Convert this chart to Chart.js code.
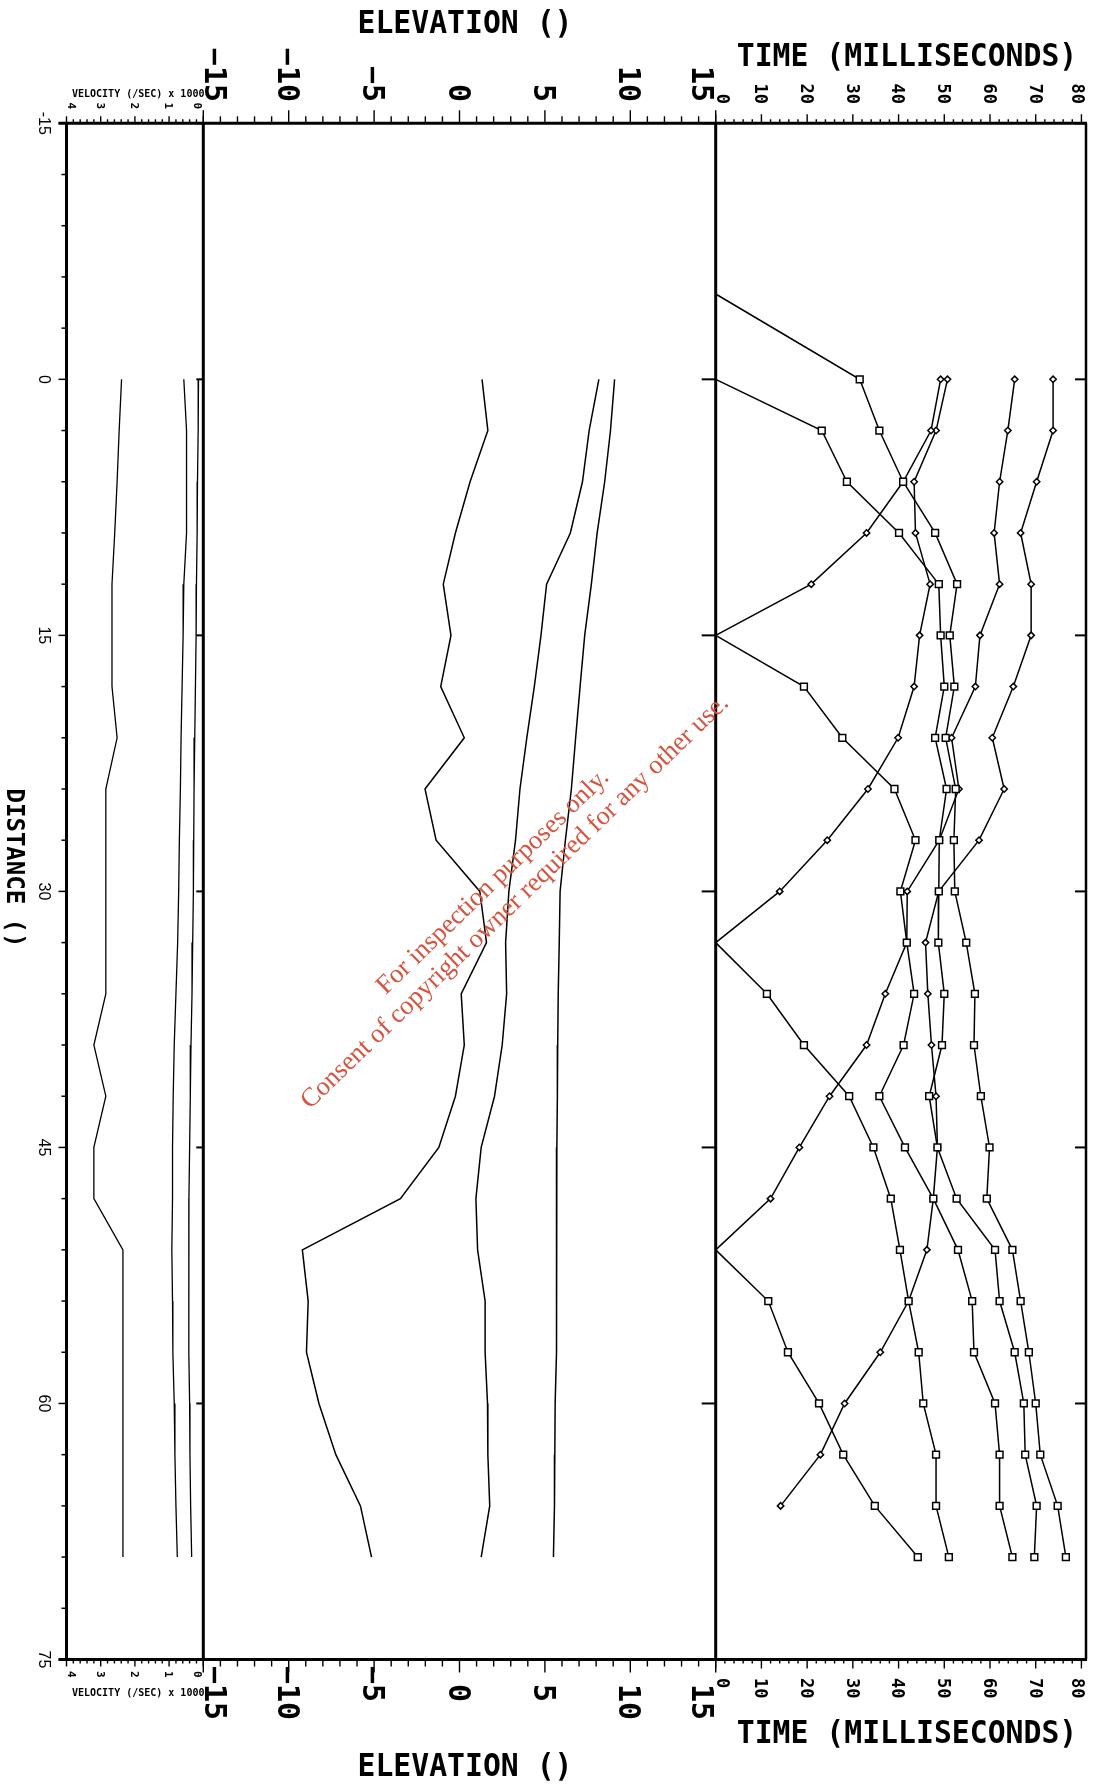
<!DOCTYPE html>
<html>
<head>
<meta charset="utf-8">
<script src="https://cdn.jsdelivr.net/npm/chart.js@4.4.1/dist/chart.umd.min.js"></script>
<style>
  html, body { margin: 0; padding: 0; background: #fff; }
  #wrap { position: relative; width: 1102px; height: 1787px; }
</style>
</head>
<body>
<div id="wrap"><canvas id="refraction" width="1102" height="1787"></canvas></div>
<script>
// geophone stations along the line
const stations = [0, 3, 6, 9, 12, 15, 18, 21, 24, 27, 30, 33, 36, 39, 42, 45, 48, 51, 54, 57, 60, 63, 66, 69];

// forward shots (square markers): times at the stations past the shot
const fwdShots = [-5, 0, 15, 33, 51];
const fwdTimes1 = [31.5, 35.8, 41.0, 48.0, 52.8, 51.2, 52.2, 50.3, 52.5, 52.1, 52.3, 54.8, 56.7, 56.5, 58.0, 59.9, 59.3, 64.9, 66.7, 68.5, 70.0, 71.0, 74.8, 76.6];
const fwdTimes2 = [23.2, 28.7, 40.1, 48.8, 49.2, 50.0, 48.0, 50.5, 48.9, 48.8, 48.7, 50.0, 49.5, 46.7, 48.5, 52.7, 61.1, 62.1, 65.4, 67.4, 67.7, 70.2, 69.7];
const fwdTimes3 = [19.3, 27.7, 39.1, 43.7, 40.4, 41.8, 43.4, 41.1, 35.8, 41.4, 47.6, 53.0, 56.1, 56.5, 61.1, 62.1, 62.1, 64.9];
const fwdTimes4 = [11.2, 19.3, 29.2, 34.5, 38.3, 40.3, 42.2, 44.4, 45.4, 48.2, 48.2, 51.0];
const fwdTimes5 = [11.5, 15.8, 22.6, 27.9, 34.8, 44.2];

// reverse shots (diamond markers): times going back toward station 0
const revShots = [15, 33, 51, null];
const revTimes1 = [20.9, 33.0, 41.0, 47.1, 49.2];
const revTimes2 = [14.0, 24.4, 33.3, 39.9, 43.4, 44.6, 46.9, 43.7, 43.4, 48.2, 50.7];
const revTimes3 = [12.0, 18.3, 24.9, 33.0, 37.1, 41.8, 41.9, 48.9, 53.2, 51.6, 56.8, 57.8, 62.1, 60.9, 62.1, 63.9, 65.4];
const revTimes4 = [14.2, 22.9, 28.2, 36.0, 42.2, 46.2, 47.6, 48.5, 48.2, 47.2, 46.4, 45.9, 48.8, 57.6, 63.1, 60.5, 65.1, 69.0, 69.0, 66.7, 70.2, 73.8, 73.8];

// elevation profiles
const elevA = [1.32, 1.66, 0.62, -0.24, -0.95, -0.5, -1.1, 0.28, -2.02, -1.37, 1.19, 1.58, 0.1, 0.28, -0.24, -1.21, -3.46, -9.2, -8.86, -8.96, -8.23, -7.24, -5.8, -5.15];
const elevB = [8.16, 7.59, 7.2, 6.49, 5.1, 4.77, 4.38, 3.94, 3.54, 3.28, 2.89, 2.7, 2.76, 2.5, 2.05, 1.27, 0.96, 1.06, 1.5, 1.5, 1.64, 1.66, 1.77, 1.27];
const elevC = [9.08, 8.84, 8.5, 8.06, 7.72, 7.33, 7.06, 6.8, 6.55, 6.2, 5.89, 5.84, 5.78, 5.75, 5.73, 5.7, 5.68, 5.68, 5.68, 5.68, 5.6, 5.58, 5.56, 5.5];

// layer velocities (x 1000)
const velA = [2.39, 2.46, 2.52, 2.59, 2.67, 2.67, 2.67, 2.52, 2.85, 2.85, 2.85, 2.85, 2.85, 3.2, 2.85, 3.2, 3.2, 2.35, 2.35, 2.35, 2.35, 2.35, 2.35, 2.35];
const velB = [0.57, 0.49, 0.49, 0.49, 0.57, 0.59, 0.62, 0.65, 0.67, 0.70, 0.72, 0.75, 0.80, 0.85, 0.88, 0.90, 0.90, 0.92, 0.90, 0.89, 0.85, 0.83, 0.80, 0.76];
const velC = [0.14, 0.15, 0.17, 0.18, 0.20, 0.21, 0.23, 0.25, 0.27, 0.28, 0.29, 0.31, 0.33, 0.36, 0.38, 0.40, 0.42, 0.42, 0.43, 0.42, 0.40, 0.39, 0.37, 0.34];

// tick labels
const distTicks = [-15, 0, 15, 30, 45, 60, 75];
const velTicks = [4, 3, 2, 1, 0];
const elevTicks = [-15, -10, -5, 0, 5, 10, 15];
const timeTicks = [0, 10, 20, 30, 40, 50, 60, 70, 80];

function forwardPoints(shot, times) {
  const sts = stations.filter(s => s > shot);
  return [{x: 0, y: shot}].concat(times.map((t, i) => ({x: t, y: sts[i]})));
}
function reversePoints(shot, times) {
  const sts = (shot === null ? stations.slice(0, times.length) : stations.filter(s => s < shot)).reverse();
  const pts = times.map((t, i) => ({x: t, y: sts[i]}));
  return shot === null ? pts : [{x: 0, y: shot}].concat(pts);
}
function profile(values) {
  return values.map((v, i) => ({x: v, y: stations[i]}));
}

const timeLine = (data, style, r) => ({
  data, xAxisID: 'xt', yAxisID: 'y', showLine: true,
  borderColor: '#000', borderWidth: 1.5,
  pointStyle: style, pointBorderColor: '#000', pointBackgroundColor: '#fff', pointBorderWidth: 1.5,
  pointRadius: c => (c.raw && c.raw.x === 0 ? 0 : r)
});
const plainLine = (data, axis, w) => ({
  data, xAxisID: axis, yAxisID: 'y', showLine: true,
  borderColor: '#000', borderWidth: w, pointRadius: 0
});

const fwdSets = [fwdTimes1, fwdTimes2, fwdTimes3, fwdTimes4, fwdTimes5];
const revSets = [revTimes1, revTimes2, revTimes3, revTimes4];

const datasets = [
  plainLine(profile(velA), 'xv', 1.3),
  plainLine(profile(velB), 'xv', 1.3),
  plainLine(profile(velC), 'xv', 1.3),
  plainLine(profile(elevA), 'xe', 1.5),
  plainLine(profile(elevB), 'xe', 1.5),
  plainLine(profile(elevC), 'xe', 1.5)
];
fwdSets.forEach((t, i) => datasets.push(timeLine(forwardPoints(fwdShots[i], t), 'rect', 4.8)));
revSets.forEach((t, i) => datasets.push(timeLine(reversePoints(revShots[i], t), 'rectRot', 3.2)));

function drawRot(ctx, txt, bx, y, align) {
  ctx.save();
  ctx.translate(bx, y);
  ctx.rotate(Math.PI / 2);
  ctx.textAlign = align;
  ctx.textBaseline = 'alphabetic';
  ctx.fillText(txt, 0, 0);
  ctx.restore();
}

function condensed(ctx, txt, cx, by, font, sx) {
  ctx.save();
  ctx.font = font;
  ctx.textAlign = 'center';
  ctx.textBaseline = 'alphabetic';
  ctx.translate(cx, by);
  ctx.scale(sx, 1);
  ctx.fillText(txt, 0, 0);
  ctx.restore();
}

const axisFrame = {
  id: 'axisFrame',
  afterDatasetsDraw(chart) {
    const {ctx, chartArea: a, scales: s} = chart;
    const seg = (x1, y1, x2, y2, w) => {
      ctx.lineWidth = w;
      ctx.beginPath();
      ctx.moveTo(x1, y1);
      ctx.lineTo(x2, y2);
      ctx.stroke();
    };
    ctx.save();
    ctx.strokeStyle = '#000';
    ctx.fillStyle = '#000';
    ctx.lineCap = 'butt';

    // frame
    seg(a.left - 8, a.top, a.right + 1, a.top, 3);
    seg(a.left - 8, a.bottom, a.right + 1, a.bottom, 3);
    seg(a.left, a.top, a.left, a.bottom, 3);
    seg(s.xe.left, a.top, s.xe.left, a.bottom, 3);
    seg(s.xt.left, a.top, s.xt.left, a.bottom, 3);
    seg(a.right, a.top, a.right, a.bottom, 2.5);

    // distance ticks
    for (let k = 0; k <= 30; k++) {
      const d = -15 + 3 * k;
      const py = s.y.getPixelForValue(d);
      const major = distTicks.includes(d);
      seg(a.left - (major ? 8 : 5), py, a.left, py, 1.5);
      if (major) {
        seg(s.xe.left - 7, py, s.xe.left, py, 2);
        seg(s.xt.left - 14, py, s.xt.left, py, 2);
        seg(a.right - 11, py, a.right, py, 2);
      }
    }

    // ticks along top and bottom
    const hTicks = (scale, from, step, n, every, minorLen, majorLen) => {
      for (let k = 0; k <= n; k++) {
        const v = from + step * k;
        const px = scale.getPixelForValue(v);
        const len = k % every === 0 ? majorLen : minorLen;
        seg(px, a.top, px, a.top - len, 1.4);
        seg(px, a.bottom, px, a.bottom + len, 1.4);
      }
    };
    hTicks(s.xv, 0, 0.2, 20, 5, 4, 7);
    hTicks(s.xe, -15, 1, 30, 5, 7, 13);
    hTicks(s.xt, 0, 2, 40, 5, 4, 9);

    // rotated tick labels
    const labels = (scale, values, font, cap, topEnd, bottomStart) => {
      ctx.font = font;
      const minusW = ctx.measureText('\u2212').width;
      for (const v of values) {
        const px = scale.getPixelForValue(v);
        const c = Math.min(Math.max(px, scale.left + cap / 2 + 1.5), scale.right - cap / 2 - 1.5);
        const bx = c - cap / 2;
        const txt = v < 0 ? '\u2212' + Math.abs(v) : String(v);
        drawRot(ctx, txt, bx, topEnd, 'right');
        drawRot(ctx, txt, bx, v < 0 ? bottomStart - minusW : bottomStart, 'left');
      }
    };
    labels(s.xv, velTicks, 'bold 11px "DejaVu Sans Mono"', 8, 109, 1671);
    labels(s.xe, elevTicks, 'bold 30px "DejaVu Sans Mono"', 21.9, 102, 1684);
    labels(s.xt, timeTicks, 'bold 17px "DejaVu Sans Mono"', 12.4, 104, 1678);

    // distance labels
    ctx.font = '16px "Liberation Sans"';
    for (const d of distTicks) {
      drawRot(ctx, String(d), 39, s.y.getPixelForValue(d), 'center');
    }
    ctx.font = 'bold 24px "DejaVu Sans Mono"';
    drawRot(ctx, 'DISTANCE ()', 7, 868, 'center');

    // axis titles
    ctx.font = 'bold 10px "DejaVu Sans Mono"';
    ctx.textAlign = 'left';
    ctx.fillText('VELOCITY (/SEC) x 1000', 72, 97);
    ctx.fillText('VELOCITY (/SEC) x 1000', 72, 1696);
    condensed(ctx, 'ELEVATION ()', 465, 33, 'bold 32px "DejaVu Sans Mono"', 0.93);
    condensed(ctx, 'TIME (MILLISECONDS)', 907, 66, 'bold 32px "DejaVu Sans Mono"', 0.93);
    condensed(ctx, 'TIME (MILLISECONDS)', 907, 1743, 'bold 32px "DejaVu Sans Mono"', 0.93);
    condensed(ctx, 'ELEVATION ()', 465, 1776, 'bold 32px "DejaVu Sans Mono"', 0.93);

    // watermark
    ctx.fillStyle = 'rgb(214, 83, 63)';
    ctx.font = '26.5px "Liberation Serif"';
    ctx.textAlign = 'center';
    ctx.textBaseline = 'middle';
    ctx.save();
    ctx.translate(493, 882);
    ctx.rotate(-44 * Math.PI / 180);
    ctx.fillText('For inspection purposes only.', 0, 0);
    ctx.restore();
    ctx.save();
    ctx.translate(515, 902);
    ctx.rotate(-44 * Math.PI / 180);
    ctx.fillText('Consent of copyright owner required for any other use.', 0, 0);
    ctx.restore();

    ctx.restore();
  }
};

new Chart(document.getElementById('refraction'), {
  type: 'scatter',
  data: {datasets},
  options: {
    responsive: false,
    animation: false,
    devicePixelRatio: 1,
    layout: {autoPadding: false, padding: {left: 66.5, right: 16, top: 123.3, bottom: 127.5}},
    plugins: {legend: {display: false}, tooltip: {enabled: false}},
    elements: {line: {tension: 0}},
    scales: {
      y: {type: 'linear', min: -15, max: 75, reverse: true, display: false},
      xv: {type: 'linear', position: 'top', min: 0, max: 4, reverse: true, display: false,
           stack: 'panels', stackWeight: 136.8, weight: 3},
      xe: {type: 'linear', position: 'top', min: -15, max: 15, display: false,
           stack: 'panels', stackWeight: 512.4, weight: 2},
      xt: {type: 'linear', position: 'top', min: 0, max: 81, display: false,
           stack: 'panels', stackWeight: 370.3, weight: 1}
    }
  },
  plugins: [axisFrame]
});
</script>
</body>
</html>
